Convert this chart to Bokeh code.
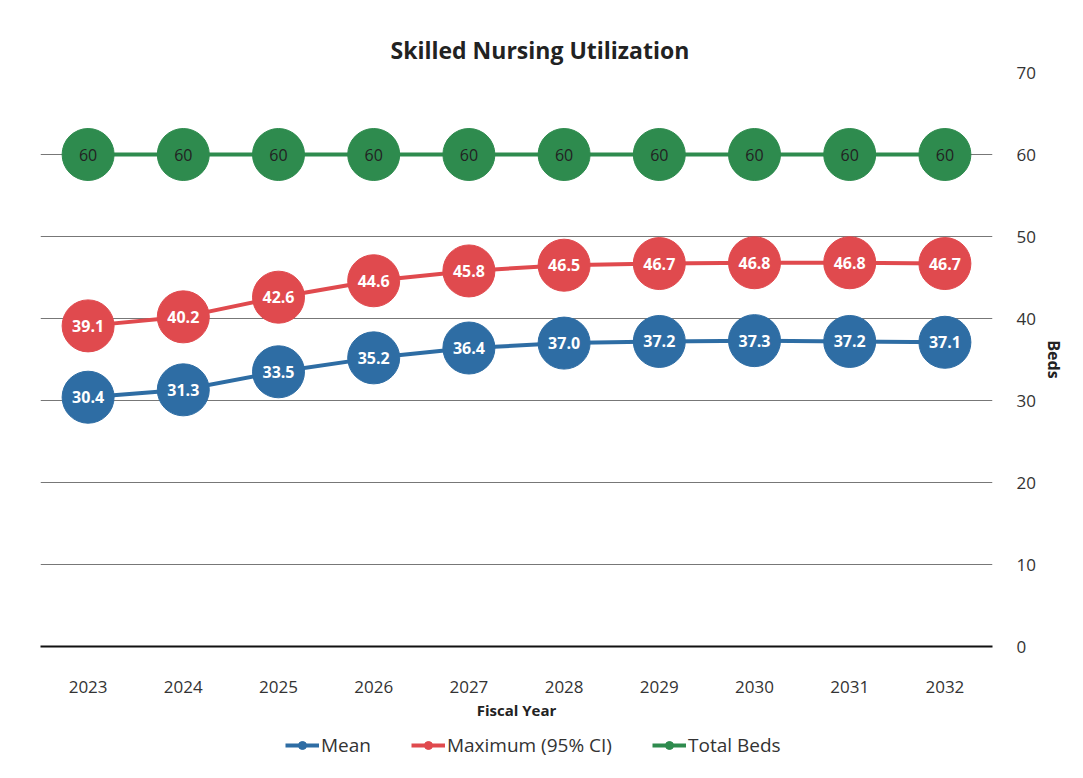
from bokeh.plotting import figure
from bokeh.layouts import column
from bokeh.models import ColumnDataSource, LinearAxis, Range1d, Legend, LegendItem, FactorRange, Title
from bokeh.core.properties import value
from bokeh.embed import file_html
from bokeh.resources import INLINE

years = ["2023", "2024", "2025", "2026", "2027", "2028", "2029", "2030", "2031", "2032"]
mean = [30.4, 31.3, 33.5, 35.2, 36.4, 37.0, 37.2, 37.3, 37.2, 37.1]
maximum = [39.1, 40.2, 42.6, 44.6, 45.8, 46.5, 46.7, 46.8, 46.8, 46.7]
total_beds = [60, 60, 60, 60, 60, 60, 60, 60, 60, 60]
y_ticks = [0, 10, 20, 30, 40, 50, 60, 70]

FONT = "Open Sans"
BLUE, RED, GREEN = "#2E6DA4", "#E04A4E", "#2E8B4E"

p = figure(width=1067, height=722, x_range=FactorRange(*years), y_range=Range1d(0, 70),
           output_backend="svg", toolbar_location=None, title=None,
           min_border_left=40, min_border_right=67, min_border_top=72, min_border_bottom=75)
p.outline_line_color = None
p.background_fill_color = "white"
p.border_fill_color = "white"

t = Title(text="Skilled Nursing Utilization", align="left", offset=350,
          text_font=FONT, text_font_size="23px", text_font_style="bold", text_color="#222222",
          standoff=13)
p.add_layout(t, "above")

# y axis on the right
p.yaxis.visible = False
yax = LinearAxis(axis_label="Beds", ticker=y_ticks)
yax.axis_label_text_font = FONT
yax.axis_label_text_font_style = "bold"
yax.axis_label_text_font_size = "16px"
yax.axis_label_text_color = "#222222"
yax.major_label_text_font = FONT
yax.major_label_text_font_size = "17px"
yax.major_label_text_color = "#333333"
yax.major_label_standoff = 18
yax.axis_line_color = None
yax.major_tick_line_color = None
yax.minor_tick_line_color = None
yax.axis_label_standoff = 4
p.add_layout(yax, "right")

p.ygrid.ticker = y_ticks
p.ygrid.grid_line_color = "#777777"
p.ygrid.grid_line_width = 1
p.xgrid.grid_line_color = None

p.xaxis.axis_label = "Fiscal Year"
p.xaxis.axis_label_text_font = FONT
p.xaxis.axis_label_text_font_style = "bold"
p.xaxis.axis_label_text_font_size = "15px"
p.xaxis.axis_label_text_color = "#222222"
p.xaxis.axis_label_standoff = 4
p.xaxis.major_label_text_font = FONT
p.xaxis.major_label_text_font_size = "17px"
p.xaxis.major_label_text_color = "#333333"
p.xaxis.major_label_standoff = 28
p.xaxis.axis_line_color = "#111111"
p.xaxis.axis_line_width = 2
p.xaxis.major_tick_line_color = None
p.xaxis.minor_tick_line_color = None

src = ColumnDataSource(dict(x=years, mean=mean, maximum=maximum, total=total_beds,
                            mean_t=[f"{v:.1f}" for v in mean],
                            max_t=[f"{v:.1f}" for v in maximum],
                            tot_t=[f"{v:d}" for v in total_beds]))

# legend figure
lf = figure(width=1067, height=40, x_range=FactorRange(*years), y_range=Range1d(0, 70),
            output_backend="svg", toolbar_location=None,
            min_border_left=0, min_border_right=0, min_border_top=0, min_border_bottom=0)
lf.outline_line_color = None
lf.axis.visible = False
lf.grid.visible = False

items = []
for col, tcol, color, tcolor, name, style in [
        ("mean", "mean_t", BLUE, "white", "Mean", "bold"),
        ("maximum", "max_t", RED, "white", "Maximum (95% CI)", "bold"),
        ("total", "tot_t", GREEN, "#222222", "Total Beds", "normal")]:
    p.line("x", col, source=src, line_color=color, line_width=4)
    p.scatter("x", col, source=src, size=52, fill_color=color, line_color=color)
    p.text("x", col, text=tcol, source=src, text_align="center", text_baseline="middle",
           text_color=tcolor, text_font=value(FONT), text_font_size="16px", text_font_style=style)
    lg_l = lf.line("x", col, source=src, line_color=color, line_width=4, visible=False)
    lg_s = lf.scatter("x", col, source=src, size=11, fill_color=color, line_color=color, visible=False)
    items.append(LegendItem(label=name, renderers=[lg_l, lg_s]))

legend = Legend(items=items, orientation="horizontal", location=(245, 4),
                label_text_font=FONT, label_text_font_size="19px", label_text_color="#333333",
                border_line_color=None, background_fill_alpha=0, glyph_width=34, spacing=40,
                label_standoff=2, margin=0, padding=2)
lf.add_layout(legend, "center")

layout = column(p, lf, spacing=0)
open("out.html", "w").write(file_html(layout, INLINE))
